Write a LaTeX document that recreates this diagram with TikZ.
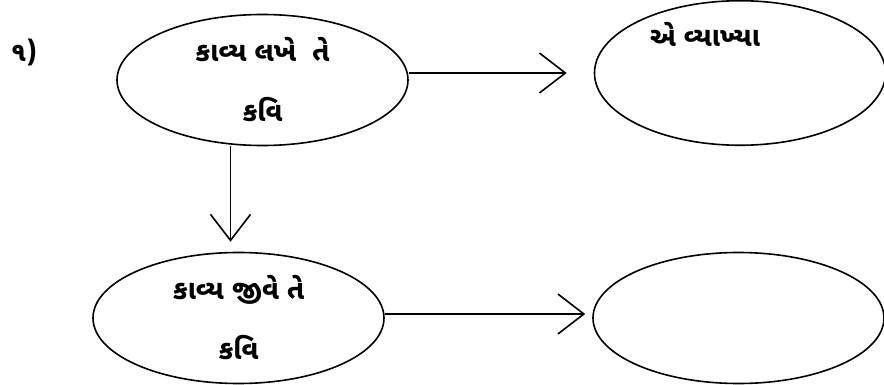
\documentclass[tikz,border=0pt]{standalone}
\usepackage{fontspec}
\newfontfamily\gujfont[Script=Gujarati]{Noto Sans Gujarati UI}
\usetikzlibrary{shapes.geometric, arrows.meta}

\tikzset{
  oval/.style={draw, ellipse, line width=1.6pt, inner sep=0pt,
    minimum width=291pt, minimum height=131pt, align=center,
    font=\gujfont\bfseries\fontsize{27}{60}\selectfont},
  barb/.style={line width=1.6pt, -{Straight Barb[length=26pt, width=40pt, line width=1.6pt]}}
}

\begin{document}
\begin{tikzpicture}[x=1pt, y=-1pt]
  \useasboundingbox (0,0) rectangle (884,385);

  % number
  \node[font=\gujfont\bfseries\fontsize{27}{30}\selectfont] (num) at (24, 52) {૧)};

  % ovals
  \node[oval] (lakhe) at (262.5, 80) {કાવ્ય લખે \ તે\\કવિ};
  \node[oval] (vyakhya) at (740, 73) {એ વ્યાખ્યા\hspace*{70pt}\\\strut};
  \node[oval] (jive) at (238.5, 318) {કાવ્ય જીવે તે\\કવિ};
  \node[oval] (khali) at (738.5, 318) {};

  % arrows
  \draw[barb] (lakhe.east |- vyakhya.west) -- ([xshift=-27pt]vyakhya.west);
  \draw[barb] ([xshift=-32pt]lakhe.south) -- ([xshift=-8pt, yshift=10pt]jive.north);
  \draw[barb] ([yshift=4pt]jive.east) -- ([xshift=-7pt, yshift=4pt]khali.west);
\end{tikzpicture}
\end{document}
